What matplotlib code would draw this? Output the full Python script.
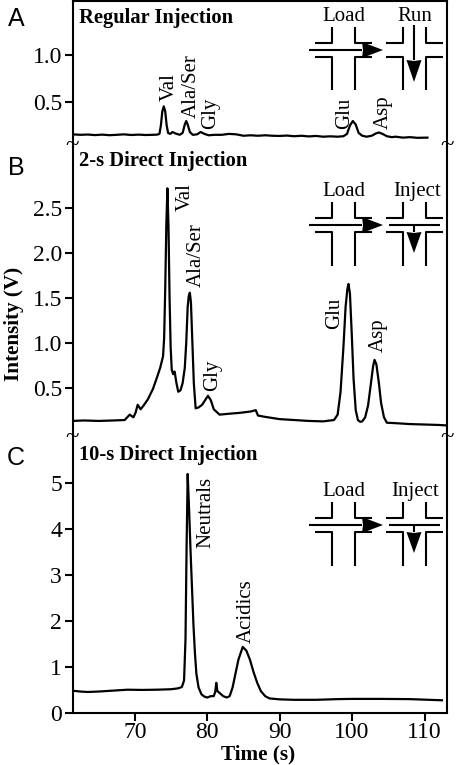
import matplotlib
matplotlib.use("Agg")
import matplotlib.pyplot as plt
from matplotlib.patches import Polygon

plt.rcParams['font.family'] = ['Liberation Serif', 'DejaVu Serif']

W, H = 457, 765
# --- data ---
time_a = [61.4,62.5,63.5,64.5,65.5,66.5,67.5,68.5,69.5,70.5,71.5,72.5,73.1,73.4,73.6,73.8,74.0,74.2,74.4,74.6,74.9,75.2,75.6,76.2,76.6,76.9,77.1,77.3,77.6,78,78.6,79.1,79.6,80.2,81,82,83,84,85,86,87,88,89,90,91,92,93,94,95,96,97,98,98.8,99.3,99.7,100.1,100.5,100.9,101.4,102,102.7,103.3,103.7,104.2,104.8,105.5,106,107,108,109,110.4]
int_a = [.155,.15,.153,.147,.152,.146,.15,.155,.148,.152,.148,.15,.152,.16,.25,.40,.454,.40,.25,.17,.16,.18,.165,.15,.17,.26,.297,.26,.18,.15,.155,.18,.16,.145,.15,.15,.16,.155,.14,.145,.14,.145,.14,.138,.142,.135,.14,.133,.138,.13,.134,.13,.135,.16,.25,.297,.26,.17,.14,.13,.14,.165,.175,.16,.135,.125,.13,.12,.125,.118,.12]

time_b = [61.4,63,65,67,68.6,69.3,69.8,70.1,70.4,70.8,71.2,71.8,72.5,73.0,73.5,73.9,74.05,74.2,74.35,74.5,74.65,74.8,74.95,75.1,75.3,75.5,75.75,76.0,76.3,76.6,76.9,77.1,77.3,77.45,77.6,77.75,77.95,78.15,78.4,78.8,79.3,79.7,80.1,80.5,80.9,81.7,83,84.5,86,86.7,87,88,90,92,94,96,97.5,98,98.4,98.8,99.1,99.35,99.5,99.7,99.95,100.2,100.5,100.8,101.1,101.4,101.8,102.2,102.6,102.9,103.1,103.35,103.7,104.0,104.4,104.8,106,108,110,112,113]
int_b = [.13,.135,.13,.135,.14,.2,.17,.22,.31,.26,.30,.37,.485,.60,.72,.85,1.05,1.6,2.3,2.72,2.3,1.5,.95,.70,.65,.68,.55,.455,.47,.55,.72,1.0,1.4,1.52,1.558,1.45,1.0,.55,.27,.28,.31,.36,.41,.36,.26,.2,.21,.22,.235,.25,.19,.175,.15,.14,.13,.125,.14,.2,.45,.95,1.4,1.6,1.655,1.55,1.1,.6,.25,.14,.12,.125,.17,.3,.55,.74,.81,.76,.55,.33,.17,.11,.105,.095,.09,.085,.08]

time_c = [61.4,62.5,63.5,65,67,69,71,73,75,76,76.5,76.8,77.0,77.15,77.3,77.5,77.7,77.9,78.1,78.3,78.5,78.8,79.2,79.6,80,80.5,80.9,81.1,81.25,81.4,81.7,82.2,82.7,83.1,83.5,83.9,84.3,84.9,85.4,85.9,86.4,86.9,87.4,88,88.6,90,92,95,98,100,104,108,112.4]
int_c = [.478,.46,.45,.46,.48,.50,.495,.50,.51,.53,.56,.70,1.6,3.6,5.19,4.4,3.5,2.7,1.9,1.3,.85,.55,.40,.35,.33,.36,.36,.45,.65,.47,.43,.36,.33,.36,.55,.85,1.15,1.43,1.35,1.15,.88,.65,.47,.36,.31,.29,.28,.28,.295,.30,.30,.295,.27]

panel_titles = ["Regular Injection", "2-s Direct Injection", "10-s Direct Injection"]
panel_letters = ["A", "B", "C"]
ticks_a = [0.5, 1.0]
ticks_b = [0.5, 1.0, 1.5, 2.0, 2.5]
ticks_c = [0, 1, 2, 3, 4, 5]
ticks_x = [70, 80, 90, 100, 110]
xlim = (61.4, 113.1)

L, R = 72.5, 447.0
geo = [(1, 147, 0.02, 1.578),
       (147, 439, 0.5-(439-387.7)/89.8, 0.5+(387.7-147)/89.8),
       (439, 712.7, 0.0, 5.95)]

fig = plt.figure(figsize=(W/100, H/100), dpi=100)

def make_ax(top, bot):
    return fig.add_axes([L/W, 1-bot/H, (R-L)/W, (bot-top)/H])

series = [(time_a, int_a, ticks_a, "{:.1f}"), (time_b, int_b, ticks_b, "{:.1f}"), (time_c, int_c, ticks_c, "{:d}")]
for i, ((top, bot, y0, y1), (t, v, tk, fmt)) in enumerate(zip(geo, series)):
    ax = make_ax(top, bot)
    ax.patch.set_alpha(0)
    ax.set_xlim(*xlim)
    ax.set_ylim(y0, y1)
    ax.plot(t, v, color='black', lw=1.6, solid_joinstyle='round', clip_on=True)
    ax.set_yticks(tk)
    ax.set_yticklabels([fmt.format(k) for k in tk], fontsize=17)
    ax.tick_params(axis='y', length=6, width=1.5, pad=1.5)
    for s in ['left', 'right']:
        ax.spines[s].set_linewidth(1.5)
    ax.spines['top'].set_visible(i == 0)
    ax.spines['top'].set_linewidth(1.5)
    ax.spines['bottom'].set_visible(i == 2)
    ax.spines['bottom'].set_linewidth(1.5)
    if i == 2:
        ax.set_xticks(ticks_x)
        ax.set_xticklabels([str(k) for k in ticks_x], fontsize=17)
        ax.tick_params(axis='x', length=6, width=1.5, pad=1)
    else:
        ax.set_xticks([])

ov = fig.add_axes([0, 0, 1, 1])
ov.set_xlim(0, W)
ov.set_ylim(H, 0)
ov.axis('off')

def label(x, y, s, **kw):
    kw.setdefault('ha', 'center')
    kw.setdefault('va', 'center')
    ov.text(x, y, s, **kw)

for s, y in zip(panel_titles, [18, 161, 455]):
    label(79, y, s, ha='left', fontsize=14.8, fontweight='bold')
for s, y in zip(panel_letters, [19, 168, 458]):
    label(16, y, s, fontsize=18, family='Liberation Sans')

peaks = [
    ("Val", 169, 87), ("Ala/Ser", 191, 86), ("Gly", 211, 113), ("Glu", 345, 113), ("Asp", 383, 112),
    ("Val", 185, 197), ("Ala/Ser", 196, 255), ("Gly", 213, 375), ("Glu", 335, 313), ("Asp", 378, 335),
    ("Neutrals", 206, 512), ("Acidics", 246, 611),
]
for s, x, y in peaks:
    label(x, y, s, rotation=90, fontsize=15)

label(14, 324, "Intensity (V)", rotation=90, fontsize=15.2, fontweight='bold')
label(258, 754, "Time (s)", fontsize=15.3, fontweight='bold')

for y in (147, 439):
    for x in (72.5, 447):
        label(x, y-2, "~", fontsize=18)

def seg(xs, ys, lw=1.5):
    ov.plot(xs, ys, color='black', lw=lw, solid_capstyle='butt')

def cross(x1, x2, xl, xr, up, lo, top, bottom):
    seg([xl, x1, x1], [up, up, top])
    seg([xr, x2, x2], [up, up, top])
    seg([xl, x1, x1], [lo, lo, bottom])
    seg([xr, x2, x2], [lo, lo, bottom])

def arrow_h(x0, xb, xt, y, hw=8):
    seg([x0, xb], [y, y])
    ov.add_patch(Polygon([(xb, y-hw), (xt, y), (xb, y+hw), (xb+1, y)], closed=True, fc='black', ec='none'))

def arrow_v(x, y0, yb, yt, hw=7.5):
    seg([x, x], [y0, yb])
    ov.add_patch(Polygon([(x-hw, yb), (x, yt), (x+hw, yb), (x, yb+1)], closed=True, fc='black', ec='none'))

def schematic(mid, label_y, top, bottom, right_label, right_x):
    up, lo = mid-7, mid+7
    cross(332, 355, 315, 372, up, lo, top, bottom)
    arrow_h(309, 362, 383, mid)
    cross(403, 426, 386, 443, up, lo, top, bottom)
    label(344, label_y+1.5, "Load", fontsize=15)
    label(right_x, label_y+1.5, right_label, fontsize=15)
    if right_label == "Run":
        arrow_v(414, up-18, mid+10, mid+32)
    else:
        seg([389, 440], [mid, mid])
        arrow_v(414, mid, mid+7, mid+28)

schematic(50, 15, 27, 90, "Run", 415)
schematic(225, 190, 202, 266, "Inject", 417)
schematic(525, 490, 502, 566, "Inject", 415)

fig.savefig("out.png", dpi=100)
